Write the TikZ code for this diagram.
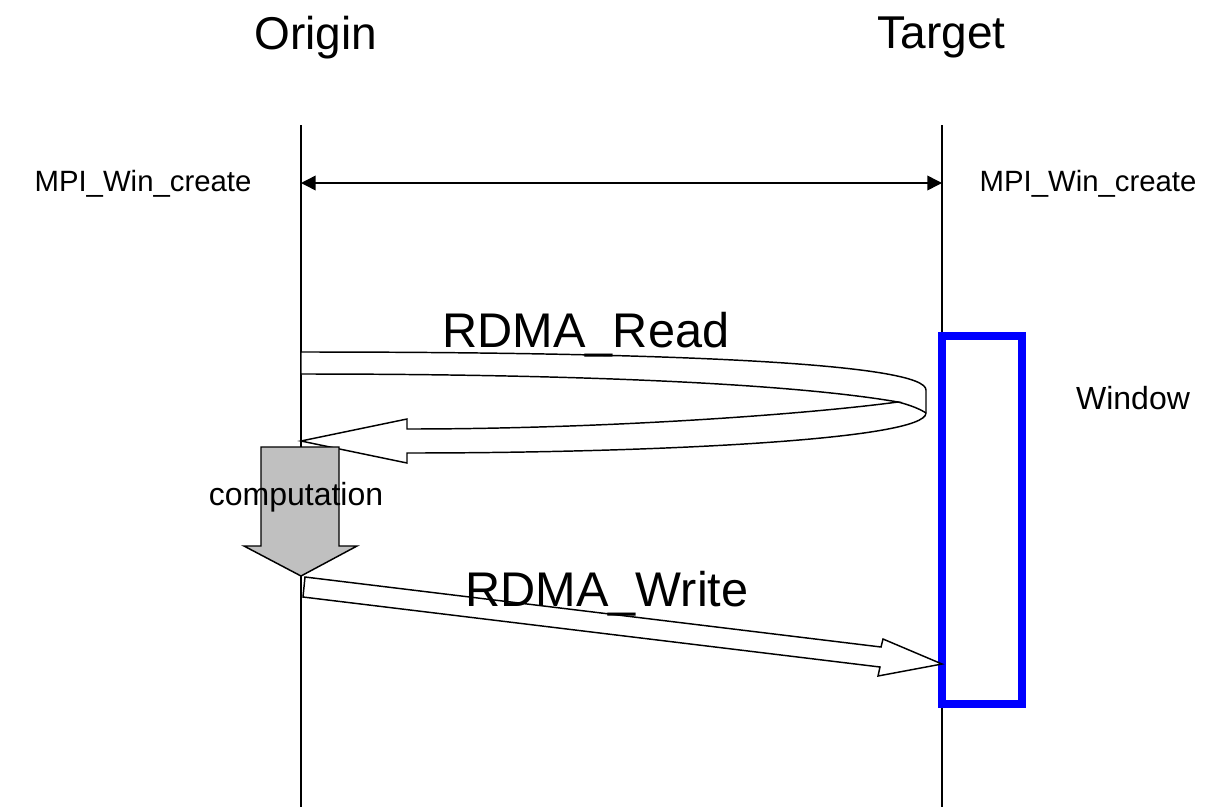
\documentclass[tikz,border=0pt]{standalone}
\usepackage{fontspec}
\setmainfont{Liberation Sans}
\usetikzlibrary{arrows.meta}
\definecolor{winblue}{RGB}{0,0,255}
\definecolor{compgray}{RGB}{192,192,192}
\tikzset{
  lifeline/.style={line width=1.5pt},
  titletext/.style={font=\fontsize{34.5}{40}\selectfont, inner sep=0pt, anchor=base},
  optext/.style={font=\fontsize{36.5}{42}\selectfont, inner sep=0pt, anchor=base},
  calltext/.style={font=\fontsize{22}{26}\selectfont, inner sep=0pt, anchor=base},
  smalltext/.style={font=\fontsize{24}{28}\selectfont, inner sep=0pt, anchor=base},
  sync/.style={line width=1.1pt, {Triangle[length=11pt,width=11pt]}-{Triangle[length=11pt,width=11pt]}},
  blockarrow/.style={draw=black, line width=1.1pt, fill=white, line join=miter},
  window/.style={draw=winblue, line width=6pt},
}
\begin{document}
\begin{tikzpicture}[x=0.75pt, y=-0.75pt]
\useasboundingbox (0,0) rectangle (1216,807);

% process lifelines
\coordinate (o-top) at (301,125);
\coordinate (o-bot) at (301,807);
\coordinate (t-top) at (942,125);
\coordinate (t-bot) at (942,807);
\draw[lifeline] (o-top) -- (o-bot);
\draw[lifeline] (t-top) -- (t-bot);

% collective window creation
\coordinate (o-win) at (301,183);
\coordinate (t-win) at (942,183);
\draw[sync] (o-win) -- (t-win);

% exposed memory window on the target
\draw[window] (941.5,336) rectangle (1022,704);

% RDMA read: ribbon going out and coming back
\draw[blockarrow]
  (301,352) .. controls (700,352) and (926,365) .. (926,390)
  -- (926,413) .. controls (926,440) and (650,453) .. (407,453)
  -- (407,463) -- (301,441) -- (407,419) -- (407,429)
  .. controls (600,429) and (800,415) .. (898,402)
  .. controls (800,385) and (600,374) .. (301,374) -- cycle;
\draw[line width=1.1pt] (898,402) .. controls (910,405) and (920,409) .. (926,413);

% local computation
\draw[blockarrow, fill=compgray]
  (261,447) -- (339,447) -- (339,546) -- (357,546) -- (301,576)
  -- (244,546) -- (261,546) -- cycle;

% RDMA write towards the window
\draw[blockarrow]
  (305,577) -- (881,647) -- (883,639) -- (942,664) -- (878,676)
  -- (880,667) -- (303,597) -- cycle;

% labels
\node[titletext] (origin) at (316,49) {Origin};
\node[titletext] (target) at (941.5,48) {Target};
\node[calltext] (wc-o) at (143,191.5) {MPI\_Win\_create};
\node[calltext] (wc-t) at (1088,191.5) {MPI\_Win\_create};
\node[optext] (read) at (586,347) {RDMA\_Read};
\node[optext] (write) at (607,606) {RDMA\_Write};
\node[smalltext] (comp) at (296,505) {computation};
\node[smalltext] (win) at (1133,409.5) {Window};
\end{tikzpicture}
\end{document}
